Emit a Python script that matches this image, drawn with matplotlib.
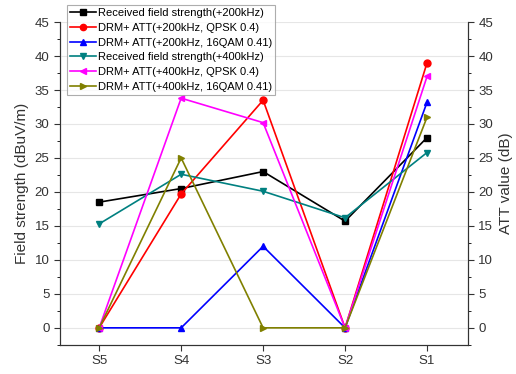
import matplotlib
matplotlib.use("Agg")
import matplotlib.pyplot as plt
from matplotlib.ticker import MultipleLocator

plt.rcParams['font.family'] = ['Liberation Sans', 'DejaVu Sans']

# sites along x axis
sites = ["S5", "S4", "S3", "S2", "S1"]

# field strength / ATT values
rx_200 = [18.5, 20.5, 23.0, 15.7, 28.0]
att_200_qpsk = [0, 19.7, 33.5, 0, 39.0]
att_200_16qam = [0, 0, 12.0, 0, 33.2]
rx_400 = [15.3, 22.6, 20.1, 16.2, 25.8]
att_400_qpsk = [0, 33.8, 30.2, 0, 37.0]
att_400_16qam = [0, 25.0, 0, 0, 31.0]

labels = ["Received field strength(+200kHz)",
          "DRM+ ATT(+200kHz, QPSK 0.4)",
          "DRM+ ATT(+200kHz, 16QAM 0.41)",
          "Received field strength(+400kHz)",
          "DRM+ ATT(+400kHz, QPSK 0.4)",
          "DRM+ ATT(+400kHz, 16QAM 0.41)"]
colors = ["black", "#FF0000", "#0000FF", "#008080", "#FF00FF", "#808000"]
markers = ["s", "o", "^", "v", "<", ">"]
series = [rx_200, att_200_qpsk, att_200_16qam, rx_400, att_400_qpsk, att_400_16qam]

fig = plt.figure(figsize=(5.16, 3.74), dpi=100)
ax = fig.add_axes([0.116, 0.078, 0.791, 0.863])

x = list(range(len(sites)))
for ys, lab, c, m in zip(series, labels, colors, markers):
    ax.plot(x, ys, color=c, marker=m, markersize=5, linewidth=1.2, label=lab)

ax.set_xlim(-0.48, 4.5)
ax.set_ylim(-2.5, 45)
ax.set_xticks(x)
ax.set_xticklabels(sites)
ax.yaxis.set_major_locator(MultipleLocator(5))
ax.yaxis.set_minor_locator(MultipleLocator(2.5))
ax.grid(axis="y", color="#e6e6e6", linewidth=0.8)
ax.set_axisbelow(True)
ax.spines["top"].set_visible(False)
ax.tick_params(direction="out", labelsize=9.5, colors="#333333", length=4)
ax.tick_params(which="minor", direction="out", length=2.5)
ax.set_ylabel("Field strength (dBuV/m)", fontsize=11, color="#333333", labelpad=4)

# twin axis on right with same scale
ax2 = ax.twinx()
ax2.set_ylim(-2.5, 45)
ax2.yaxis.set_major_locator(MultipleLocator(5))
ax2.yaxis.set_minor_locator(MultipleLocator(2.5))
ax2.spines["top"].set_visible(False)
ax2.tick_params(direction="out", labelsize=9.5, colors="#333333", length=4)
ax2.tick_params(which="minor", direction="out", length=2.5)
ax2.set_ylabel("ATT value (dB)", fontsize=11, color="#333333", labelpad=4)

for a in (ax, ax2):
    for s in a.spines.values():
        s.set_color("#333333")

leg = ax.legend(loc="upper left", bbox_to_anchor=(67 / 516, 1 - 5 / 374),
                bbox_transform=fig.transFigure, fontsize=8.0, frameon=True,
                fancybox=False, edgecolor="#999999", borderpad=0.3,
                labelspacing=0.42, handlelength=2.3, handletextpad=0.15,
                borderaxespad=0, markerscale=0.9)
leg.get_frame().set_linewidth(0.8)
leg.set_zorder(10)
ax2.set_zorder(ax.zorder - 1)
ax.patch.set_visible(False)

fig.savefig("out.png", dpi=100)
